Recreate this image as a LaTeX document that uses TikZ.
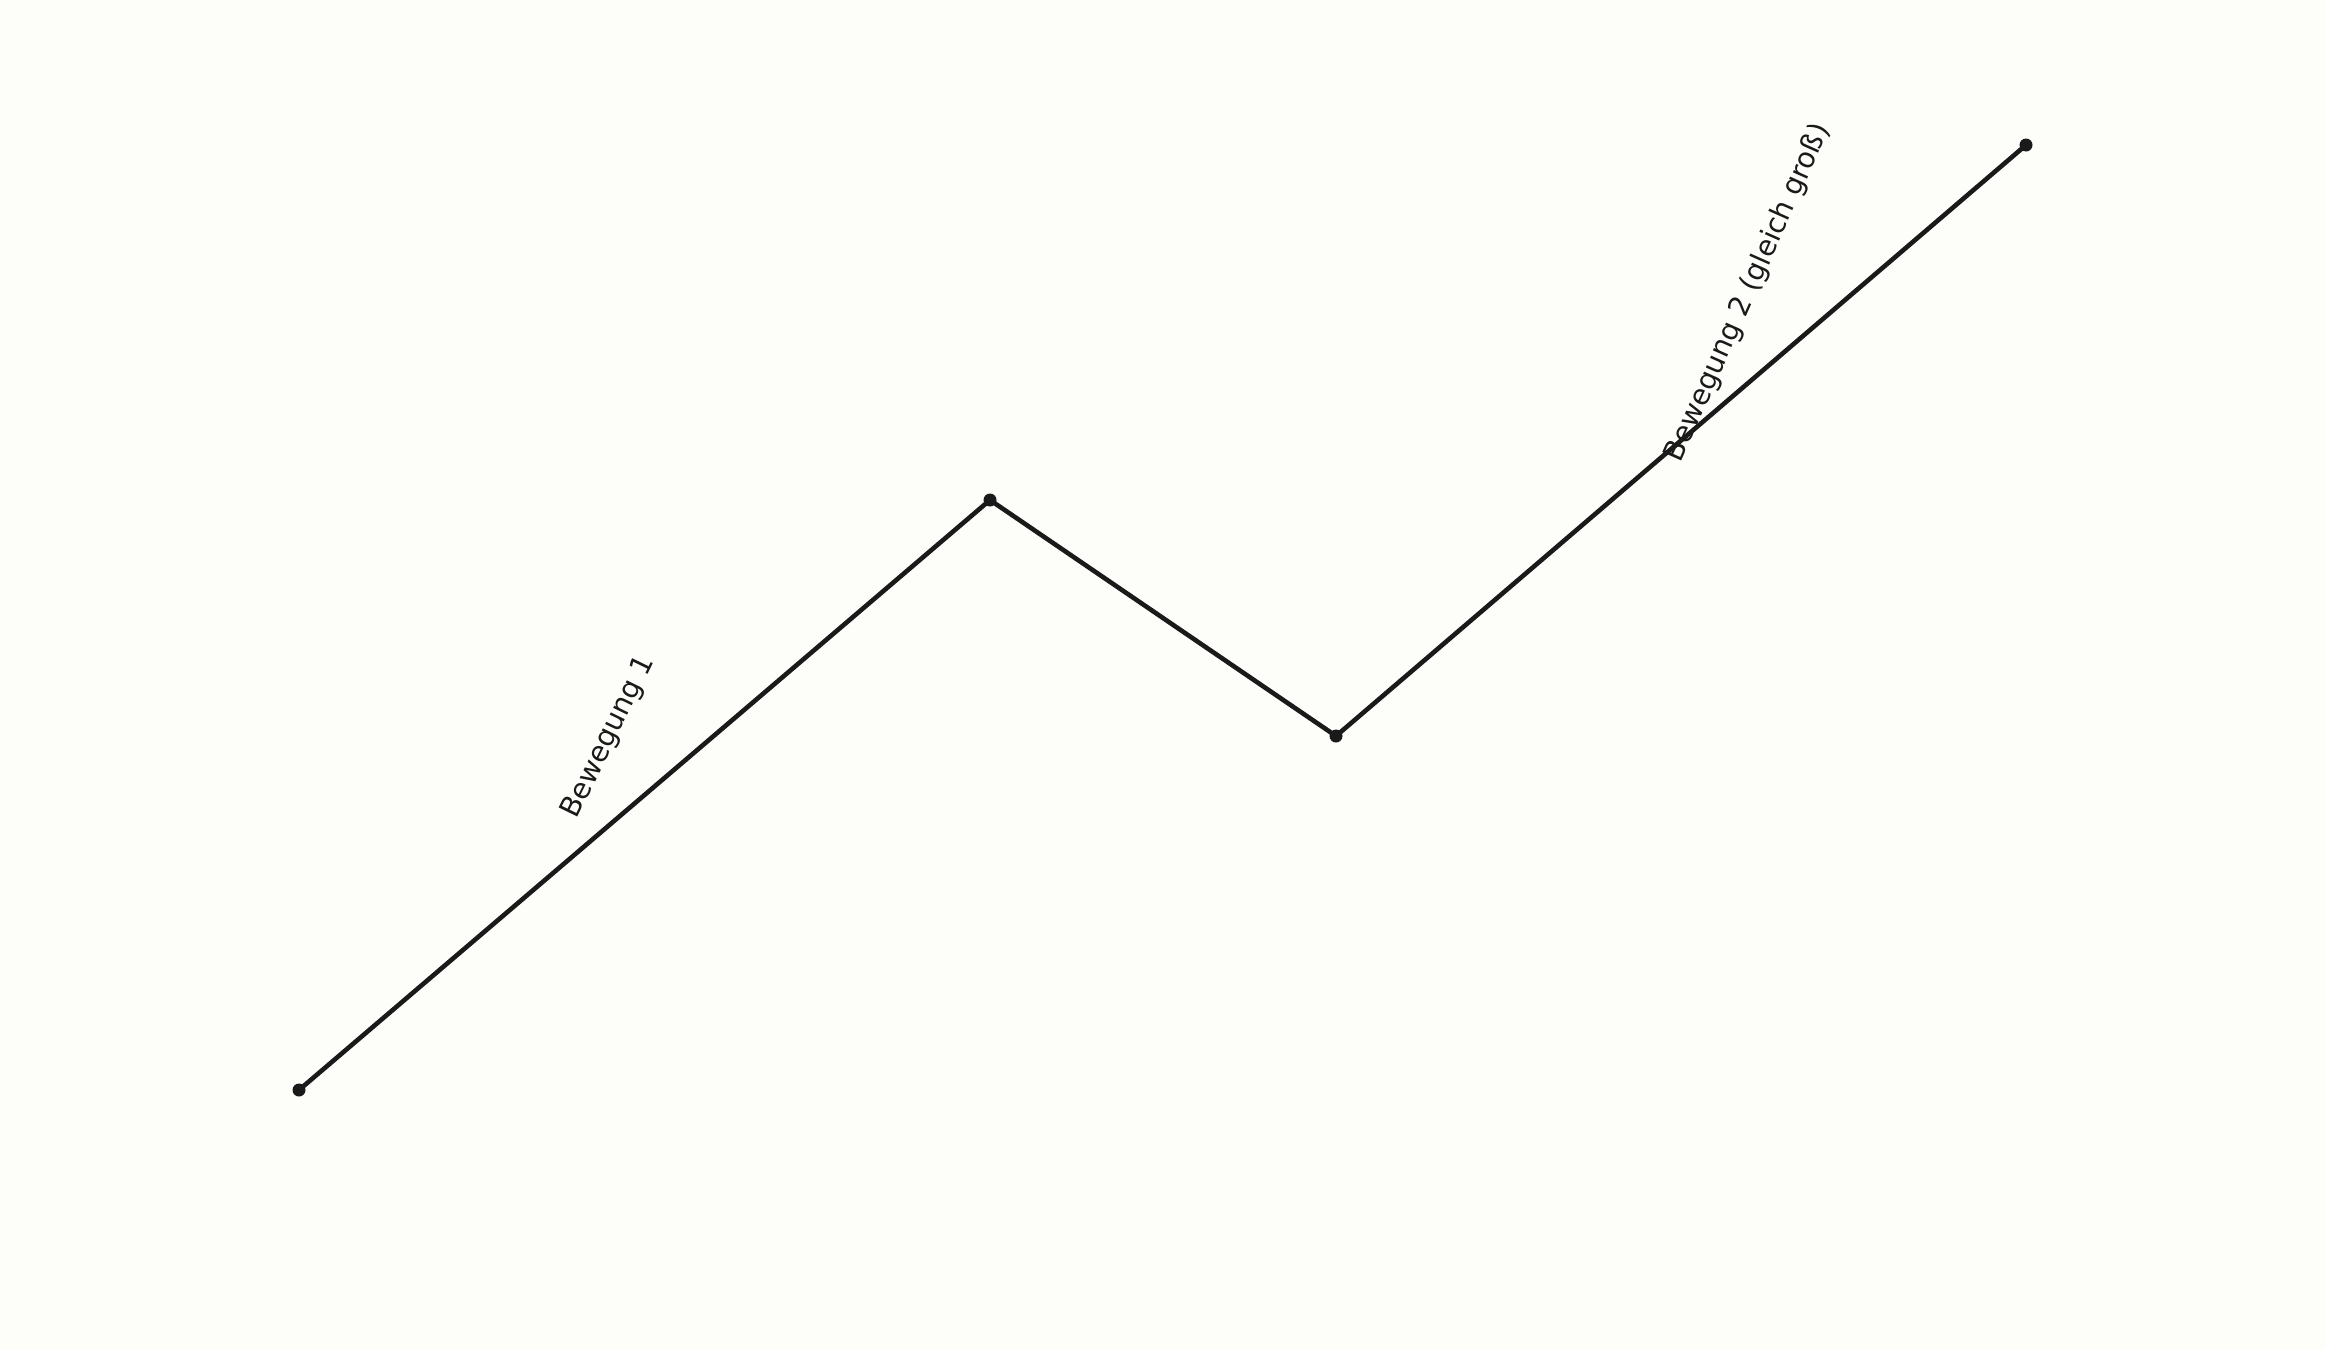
\documentclass[tikz,border=0pt]{standalone}
\usepackage{fontspec}
\setmainfont{DejaVu Sans}
\definecolor{bgc}{RGB}{253,254,250}
\definecolor{ink}{RGB}{26,26,26}
\begin{document}
\begin{tikzpicture}[x=0.5pt,y=-0.5pt,
  dot/.style={circle,fill=ink,draw=none,minimum size=6.5pt,inner sep=0pt},
  seg/.style={draw=ink,line width=2.3pt,line cap=round},
  lbl/.style={text=ink,font=\fontsize{14.2pt}{17pt}\selectfont,inner sep=0pt}]
\fill[bgc] (0,0) rectangle (2325,1350);
\useasboundingbox (0,0) rectangle (2325,1350);
\node[dot] (a) at (299,1090) {};
\node[dot] (b) at (990,500) {};
\node[dot] (c) at (1336,736) {};
\node[dot] (d) at (2026,145) {};
\draw[seg] (a.center) -- (b.center) -- (c.center) -- (d.center);
\node[lbl,rotate=64] (l1) at (609,737) {Bewegung 1};
\node[lbl,rotate=66] (l2) at (1748,293) {Bewegung 2 (gleich groß)};
\end{tikzpicture}
\end{document}
